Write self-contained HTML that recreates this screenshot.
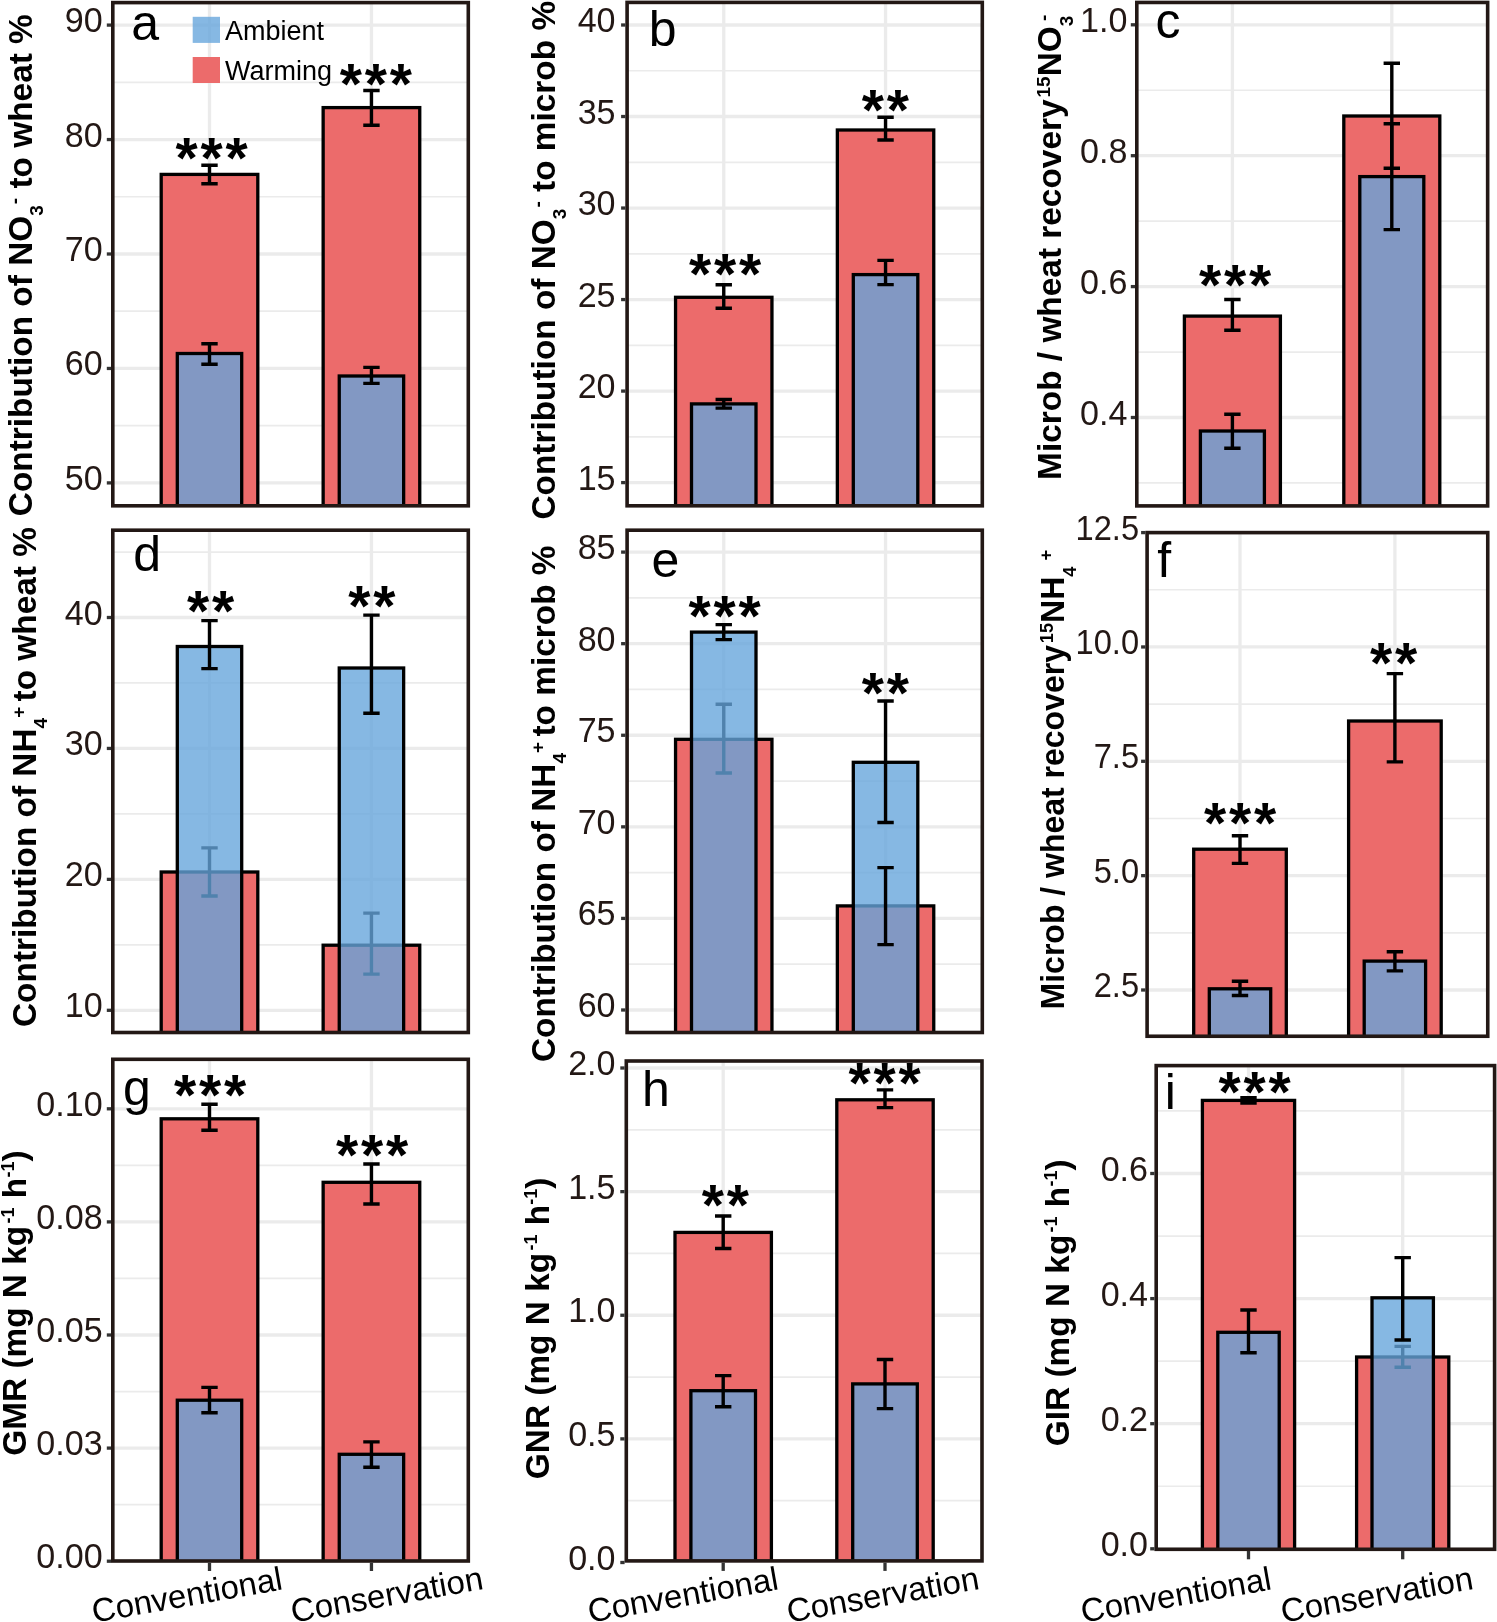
<!DOCTYPE html>
<html><head><meta charset="utf-8"><style>
html,body{margin:0;padding:0;background:#fff;}
body{width:1497px;height:1622px;overflow:hidden;}
svg{display:block;font-family:"Liberation Sans",sans-serif;will-change:transform;}
</style></head><body>
<svg width="1497" height="1622" viewBox="0 0 1497 1622">
<rect width="1497" height="1622" fill="#fff"/>
<clipPath id="clipa"><rect x="112.8" y="2.6" width="355.5" height="503.2"/></clipPath>
<g clip-path="url(#clipa)">
<line x1="112.8" y1="425.67" x2="468.3" y2="425.67" stroke="#EBEBEB" stroke-width="1.7"/>
<line x1="112.8" y1="311.22" x2="468.3" y2="311.22" stroke="#EBEBEB" stroke-width="1.7"/>
<line x1="112.8" y1="196.77" x2="468.3" y2="196.77" stroke="#EBEBEB" stroke-width="1.7"/>
<line x1="112.8" y1="82.33" x2="468.3" y2="82.33" stroke="#EBEBEB" stroke-width="1.7"/>
<line x1="112.8" y1="482.9" x2="468.3" y2="482.9" stroke="#EBEBEB" stroke-width="3.3"/>
<line x1="112.8" y1="368.45" x2="468.3" y2="368.45" stroke="#EBEBEB" stroke-width="3.3"/>
<line x1="112.8" y1="254" x2="468.3" y2="254" stroke="#EBEBEB" stroke-width="3.3"/>
<line x1="112.8" y1="139.55" x2="468.3" y2="139.55" stroke="#EBEBEB" stroke-width="3.3"/>
<line x1="112.8" y1="25.1" x2="468.3" y2="25.1" stroke="#EBEBEB" stroke-width="3.3"/>
<line x1="209.5" y1="2.6" x2="209.5" y2="505.8" stroke="#EBEBEB" stroke-width="3.3"/>
<line x1="371.45" y1="2.6" x2="371.45" y2="505.8" stroke="#EBEBEB" stroke-width="3.3"/>
<rect x="161.2" y="174.4" width="96.6" height="341.4" fill="#EC6B6B" stroke="#000" stroke-width="3.3"/>
<rect x="323.15" y="107.6" width="96.6" height="408.2" fill="#EC6B6B" stroke="#000" stroke-width="3.3"/>
<rect x="177.3" y="353.5" width="64.4" height="162.3" fill="rgba(101,165,220,0.79)" stroke="#000" stroke-width="3.3"/>
<rect x="339.25" y="376" width="64.4" height="139.8" fill="rgba(101,165,220,0.79)" stroke="#000" stroke-width="3.3"/>
<path d="M201.3 165.2H217.7M201.3 183.7H217.7M209.5 165.2V183.7" stroke="#000" stroke-width="3.4" fill="none"/>
<path d="M363.25 90.5H379.65M363.25 125.3H379.65M371.45 90.5V125.3" stroke="#000" stroke-width="3.4" fill="none"/>
<path d="M201.3 343.7H217.7M201.3 364.2H217.7M209.5 343.7V364.2" stroke="#000" stroke-width="3.4" fill="none"/>
<path d="M363.25 367.4H379.65M363.25 383.4H379.65M371.45 367.4V383.4" stroke="#000" stroke-width="3.4" fill="none"/>
</g>
<text x="186.5" y="178.13" font-size="57" font-weight="bold" text-anchor="middle">*</text>
<text x="211.5" y="178.13" font-size="57" font-weight="bold" text-anchor="middle">*</text>
<text x="236.5" y="178.13" font-size="57" font-weight="bold" text-anchor="middle">*</text>
<text x="350.9" y="104.33" font-size="57" font-weight="bold" text-anchor="middle">*</text>
<text x="375.9" y="104.33" font-size="57" font-weight="bold" text-anchor="middle">*</text>
<text x="400.9" y="104.33" font-size="57" font-weight="bold" text-anchor="middle">*</text>
<text x="131.35" y="40.2" font-size="50">a</text>
<rect x="112.8" y="2.6" width="355.5" height="503.2" fill="none" stroke="#231815" stroke-width="3.6"/>
<line x1="106.8" y1="482.9" x2="111.1" y2="482.9" stroke="#333333" stroke-width="3.3"/>
<text transform="translate(102.64,489.9) scale(0.96,1)" font-size="35.5" text-anchor="end" fill="#231815">50</text>
<line x1="106.8" y1="368.45" x2="111.1" y2="368.45" stroke="#333333" stroke-width="3.3"/>
<text transform="translate(102.64,375.45) scale(0.96,1)" font-size="35.5" text-anchor="end" fill="#231815">60</text>
<line x1="106.8" y1="254" x2="111.1" y2="254" stroke="#333333" stroke-width="3.3"/>
<text transform="translate(102.64,261) scale(0.96,1)" font-size="35.5" text-anchor="end" fill="#231815">70</text>
<line x1="106.8" y1="139.55" x2="111.1" y2="139.55" stroke="#333333" stroke-width="3.3"/>
<text transform="translate(102.64,146.55) scale(0.96,1)" font-size="35.5" text-anchor="end" fill="#231815">80</text>
<line x1="106.8" y1="25.1" x2="111.1" y2="25.1" stroke="#333333" stroke-width="3.3"/>
<text transform="translate(102.64,32.1) scale(0.96,1)" font-size="35.5" text-anchor="end" fill="#231815">90</text>
<clipPath id="clipb"><rect x="627.1" y="2.4" width="355.2" height="503.4"/></clipPath>
<g clip-path="url(#clipb)">
<line x1="627.1" y1="436.84" x2="982.3" y2="436.84" stroke="#EBEBEB" stroke-width="1.7"/>
<line x1="627.1" y1="345.32" x2="982.3" y2="345.32" stroke="#EBEBEB" stroke-width="1.7"/>
<line x1="627.1" y1="253.8" x2="982.3" y2="253.8" stroke="#EBEBEB" stroke-width="1.7"/>
<line x1="627.1" y1="162.28" x2="982.3" y2="162.28" stroke="#EBEBEB" stroke-width="1.7"/>
<line x1="627.1" y1="70.76" x2="982.3" y2="70.76" stroke="#EBEBEB" stroke-width="1.7"/>
<line x1="627.1" y1="482.6" x2="982.3" y2="482.6" stroke="#EBEBEB" stroke-width="3.3"/>
<line x1="627.1" y1="391.08" x2="982.3" y2="391.08" stroke="#EBEBEB" stroke-width="3.3"/>
<line x1="627.1" y1="299.56" x2="982.3" y2="299.56" stroke="#EBEBEB" stroke-width="3.3"/>
<line x1="627.1" y1="208.04" x2="982.3" y2="208.04" stroke="#EBEBEB" stroke-width="3.3"/>
<line x1="627.1" y1="116.52" x2="982.3" y2="116.52" stroke="#EBEBEB" stroke-width="3.3"/>
<line x1="627.1" y1="25" x2="982.3" y2="25" stroke="#EBEBEB" stroke-width="3.3"/>
<line x1="723.75" y1="2.4" x2="723.75" y2="505.8" stroke="#EBEBEB" stroke-width="3.3"/>
<line x1="885.55" y1="2.4" x2="885.55" y2="505.8" stroke="#EBEBEB" stroke-width="3.3"/>
<rect x="675.55" y="297.3" width="96.4" height="218.5" fill="#EC6B6B" stroke="#000" stroke-width="3.3"/>
<rect x="837.35" y="130" width="96.4" height="385.8" fill="#EC6B6B" stroke="#000" stroke-width="3.3"/>
<rect x="691.5" y="403.9" width="64.5" height="111.9" fill="rgba(101,165,220,0.79)" stroke="#000" stroke-width="3.3"/>
<rect x="853.3" y="274.6" width="64.5" height="241.2" fill="rgba(101,165,220,0.79)" stroke="#000" stroke-width="3.3"/>
<path d="M715.55 284.7H731.95M715.55 308.3H731.95M723.75 284.7V308.3" stroke="#000" stroke-width="3.4" fill="none"/>
<path d="M877.35 117.3H893.75M877.35 140H893.75M885.55 117.3V140" stroke="#000" stroke-width="3.4" fill="none"/>
<path d="M715.55 399.5H731.95M715.55 408.1H731.95M723.75 399.5V408.1" stroke="#000" stroke-width="3.4" fill="none"/>
<path d="M877.35 260.4H893.75M877.35 284.6H893.75M885.55 260.4V284.6" stroke="#000" stroke-width="3.4" fill="none"/>
</g>
<text x="700.1" y="294.13" font-size="57" font-weight="bold" text-anchor="middle">*</text>
<text x="725.1" y="294.13" font-size="57" font-weight="bold" text-anchor="middle">*</text>
<text x="750.1" y="294.13" font-size="57" font-weight="bold" text-anchor="middle">*</text>
<text x="872.9" y="130.13" font-size="57" font-weight="bold" text-anchor="middle">*</text>
<text x="897.9" y="130.13" font-size="57" font-weight="bold" text-anchor="middle">*</text>
<text x="648.75" y="45.6" font-size="50">b</text>
<rect x="627.1" y="2.4" width="355.2" height="503.4" fill="none" stroke="#231815" stroke-width="3.6"/>
<line x1="621.1" y1="482.6" x2="625.4" y2="482.6" stroke="#333333" stroke-width="3.3"/>
<text transform="translate(615.54,489.6) scale(0.96,1)" font-size="35.5" text-anchor="end" fill="#231815">15</text>
<line x1="621.1" y1="391.08" x2="625.4" y2="391.08" stroke="#333333" stroke-width="3.3"/>
<text transform="translate(615.54,398.08) scale(0.96,1)" font-size="35.5" text-anchor="end" fill="#231815">20</text>
<line x1="621.1" y1="299.56" x2="625.4" y2="299.56" stroke="#333333" stroke-width="3.3"/>
<text transform="translate(615.54,306.56) scale(0.96,1)" font-size="35.5" text-anchor="end" fill="#231815">25</text>
<line x1="621.1" y1="208.04" x2="625.4" y2="208.04" stroke="#333333" stroke-width="3.3"/>
<text transform="translate(615.54,215.04) scale(0.96,1)" font-size="35.5" text-anchor="end" fill="#231815">30</text>
<line x1="621.1" y1="116.52" x2="625.4" y2="116.52" stroke="#333333" stroke-width="3.3"/>
<text transform="translate(615.54,123.52) scale(0.96,1)" font-size="35.5" text-anchor="end" fill="#231815">35</text>
<line x1="621.1" y1="25" x2="625.4" y2="25" stroke="#333333" stroke-width="3.3"/>
<text transform="translate(615.54,32) scale(0.96,1)" font-size="35.5" text-anchor="end" fill="#231815">40</text>
<clipPath id="clipc"><rect x="1136.8" y="2.45" width="350.85" height="503.45"/></clipPath>
<g clip-path="url(#clipc)">
<line x1="1136.8" y1="482.95" x2="1487.65" y2="482.95" stroke="#EBEBEB" stroke-width="1.7"/>
<line x1="1136.8" y1="352.05" x2="1487.65" y2="352.05" stroke="#EBEBEB" stroke-width="1.7"/>
<line x1="1136.8" y1="221.15" x2="1487.65" y2="221.15" stroke="#EBEBEB" stroke-width="1.7"/>
<line x1="1136.8" y1="90.25" x2="1487.65" y2="90.25" stroke="#EBEBEB" stroke-width="1.7"/>
<line x1="1136.8" y1="417.5" x2="1487.65" y2="417.5" stroke="#EBEBEB" stroke-width="3.3"/>
<line x1="1136.8" y1="286.6" x2="1487.65" y2="286.6" stroke="#EBEBEB" stroke-width="3.3"/>
<line x1="1136.8" y1="155.7" x2="1487.65" y2="155.7" stroke="#EBEBEB" stroke-width="3.3"/>
<line x1="1136.8" y1="24.8" x2="1487.65" y2="24.8" stroke="#EBEBEB" stroke-width="3.3"/>
<line x1="1232.4" y1="2.45" x2="1232.4" y2="505.9" stroke="#EBEBEB" stroke-width="3.3"/>
<line x1="1391.8" y1="2.45" x2="1391.8" y2="505.9" stroke="#EBEBEB" stroke-width="3.3"/>
<rect x="1184.4" y="316.1" width="96" height="199.8" fill="#EC6B6B" stroke="#000" stroke-width="3.3"/>
<rect x="1343.8" y="116" width="96" height="399.9" fill="#EC6B6B" stroke="#000" stroke-width="3.3"/>
<rect x="1200.4" y="431" width="64" height="84.9" fill="rgba(101,165,220,0.79)" stroke="#000" stroke-width="3.3"/>
<rect x="1359.8" y="176.6" width="64" height="339.3" fill="rgba(101,165,220,0.79)" stroke="#000" stroke-width="3.3"/>
<path d="M1224.2 299.5H1240.6M1224.2 330.3H1240.6M1232.4 299.5V330.3" stroke="#000" stroke-width="3.4" fill="none"/>
<path d="M1383.6 63.3H1400M1383.6 168.2H1400M1391.8 63.3V168.2" stroke="#000" stroke-width="3.4" fill="none"/>
<path d="M1224.2 414.3H1240.6M1224.2 448.2H1240.6M1232.4 414.3V448.2" stroke="#000" stroke-width="3.4" fill="none"/>
<path d="M1383.6 123.7H1400M1383.6 229.6H1400M1391.8 123.7V229.6" stroke="#000" stroke-width="3.4" fill="none"/>
</g>
<text x="1210" y="304.73" font-size="57" font-weight="bold" text-anchor="middle">*</text>
<text x="1235" y="304.73" font-size="57" font-weight="bold" text-anchor="middle">*</text>
<text x="1260" y="304.73" font-size="57" font-weight="bold" text-anchor="middle">*</text>
<text x="1155.45" y="38" font-size="50">c</text>
<rect x="1136.8" y="2.45" width="350.85" height="503.45" fill="none" stroke="#231815" stroke-width="3.6"/>
<line x1="1130.8" y1="417.5" x2="1135.1" y2="417.5" stroke="#333333" stroke-width="3.3"/>
<text transform="translate(1127.34,424.5) scale(0.96,1)" font-size="35.5" text-anchor="end" fill="#231815">0.4</text>
<line x1="1130.8" y1="286.6" x2="1135.1" y2="286.6" stroke="#333333" stroke-width="3.3"/>
<text transform="translate(1127.34,293.6) scale(0.96,1)" font-size="35.5" text-anchor="end" fill="#231815">0.6</text>
<line x1="1130.8" y1="155.7" x2="1135.1" y2="155.7" stroke="#333333" stroke-width="3.3"/>
<text transform="translate(1127.34,162.7) scale(0.96,1)" font-size="35.5" text-anchor="end" fill="#231815">0.8</text>
<line x1="1130.8" y1="24.8" x2="1135.1" y2="24.8" stroke="#333333" stroke-width="3.3"/>
<text transform="translate(1127.34,31.8) scale(0.96,1)" font-size="35.5" text-anchor="end" fill="#231815">1.0</text>
<clipPath id="clipd"><rect x="112.8" y="530.2" width="355.5" height="502.3"/></clipPath>
<g clip-path="url(#clipd)">
<line x1="112.8" y1="944.83" x2="468.3" y2="944.83" stroke="#EBEBEB" stroke-width="1.7"/>
<line x1="112.8" y1="813.9" x2="468.3" y2="813.9" stroke="#EBEBEB" stroke-width="1.7"/>
<line x1="112.8" y1="682.97" x2="468.3" y2="682.97" stroke="#EBEBEB" stroke-width="1.7"/>
<line x1="112.8" y1="552.03" x2="468.3" y2="552.03" stroke="#EBEBEB" stroke-width="1.7"/>
<line x1="112.8" y1="1010.3" x2="468.3" y2="1010.3" stroke="#EBEBEB" stroke-width="3.3"/>
<line x1="112.8" y1="879.37" x2="468.3" y2="879.37" stroke="#EBEBEB" stroke-width="3.3"/>
<line x1="112.8" y1="748.43" x2="468.3" y2="748.43" stroke="#EBEBEB" stroke-width="3.3"/>
<line x1="112.8" y1="617.5" x2="468.3" y2="617.5" stroke="#EBEBEB" stroke-width="3.3"/>
<line x1="209.5" y1="530.2" x2="209.5" y2="1032.5" stroke="#EBEBEB" stroke-width="3.3"/>
<line x1="371.45" y1="530.2" x2="371.45" y2="1032.5" stroke="#EBEBEB" stroke-width="3.3"/>
<rect x="161.2" y="872" width="96.6" height="170.5" fill="#EC6B6B" stroke="#000" stroke-width="3.3"/>
<rect x="323.15" y="945.2" width="96.6" height="97.3" fill="#EC6B6B" stroke="#000" stroke-width="3.3"/>
<path d="M201.3 847.9H217.7M201.3 896H217.7M209.5 847.9V896" stroke="#000" stroke-width="3.4" fill="none"/>
<path d="M363.25 913.1H379.65M363.25 974.1H379.65M371.45 913.1V974.1" stroke="#000" stroke-width="3.4" fill="none"/>
<rect x="177.3" y="646.5" width="64.4" height="396" fill="rgba(101,165,220,0.79)" stroke="#000" stroke-width="3.3"/>
<rect x="339.25" y="668" width="64.4" height="374.5" fill="rgba(101,165,220,0.79)" stroke="#000" stroke-width="3.3"/>
<path d="M201.3 620.6H217.7M201.3 668.6H217.7M209.5 620.6V668.6" stroke="#000" stroke-width="3.4" fill="none"/>
<path d="M363.25 615.1H379.65M363.25 713.2H379.65M371.45 615.1V713.2" stroke="#000" stroke-width="3.4" fill="none"/>
</g>
<text x="198.2" y="631.03" font-size="57" font-weight="bold" text-anchor="middle">*</text>
<text x="223.2" y="631.03" font-size="57" font-weight="bold" text-anchor="middle">*</text>
<text x="359.4" y="626.03" font-size="57" font-weight="bold" text-anchor="middle">*</text>
<text x="384.4" y="626.03" font-size="57" font-weight="bold" text-anchor="middle">*</text>
<text x="133.2" y="571" font-size="50">d</text>
<rect x="112.8" y="530.2" width="355.5" height="502.3" fill="none" stroke="#231815" stroke-width="3.6"/>
<line x1="106.8" y1="1010.3" x2="111.1" y2="1010.3" stroke="#333333" stroke-width="3.3"/>
<text transform="translate(102.64,1017.3) scale(0.96,1)" font-size="35.5" text-anchor="end" fill="#231815">10</text>
<line x1="106.8" y1="879.37" x2="111.1" y2="879.37" stroke="#333333" stroke-width="3.3"/>
<text transform="translate(102.64,886.37) scale(0.96,1)" font-size="35.5" text-anchor="end" fill="#231815">20</text>
<line x1="106.8" y1="748.43" x2="111.1" y2="748.43" stroke="#333333" stroke-width="3.3"/>
<text transform="translate(102.64,755.43) scale(0.96,1)" font-size="35.5" text-anchor="end" fill="#231815">30</text>
<line x1="106.8" y1="617.5" x2="111.1" y2="617.5" stroke="#333333" stroke-width="3.3"/>
<text transform="translate(102.64,624.5) scale(0.96,1)" font-size="35.5" text-anchor="end" fill="#231815">40</text>
<clipPath id="clipe"><rect x="627.1" y="530.2" width="355.2" height="502.3"/></clipPath>
<g clip-path="url(#clipe)">
<line x1="627.1" y1="964.21" x2="982.3" y2="964.21" stroke="#EBEBEB" stroke-width="1.7"/>
<line x1="627.1" y1="872.63" x2="982.3" y2="872.63" stroke="#EBEBEB" stroke-width="1.7"/>
<line x1="627.1" y1="781.05" x2="982.3" y2="781.05" stroke="#EBEBEB" stroke-width="1.7"/>
<line x1="627.1" y1="689.47" x2="982.3" y2="689.47" stroke="#EBEBEB" stroke-width="1.7"/>
<line x1="627.1" y1="597.89" x2="982.3" y2="597.89" stroke="#EBEBEB" stroke-width="1.7"/>
<line x1="627.1" y1="1010" x2="982.3" y2="1010" stroke="#EBEBEB" stroke-width="3.3"/>
<line x1="627.1" y1="918.42" x2="982.3" y2="918.42" stroke="#EBEBEB" stroke-width="3.3"/>
<line x1="627.1" y1="826.84" x2="982.3" y2="826.84" stroke="#EBEBEB" stroke-width="3.3"/>
<line x1="627.1" y1="735.26" x2="982.3" y2="735.26" stroke="#EBEBEB" stroke-width="3.3"/>
<line x1="627.1" y1="643.68" x2="982.3" y2="643.68" stroke="#EBEBEB" stroke-width="3.3"/>
<line x1="627.1" y1="552.1" x2="982.3" y2="552.1" stroke="#EBEBEB" stroke-width="3.3"/>
<line x1="723.75" y1="530.2" x2="723.75" y2="1032.5" stroke="#EBEBEB" stroke-width="3.3"/>
<line x1="885.55" y1="530.2" x2="885.55" y2="1032.5" stroke="#EBEBEB" stroke-width="3.3"/>
<rect x="675.55" y="739.3" width="96.4" height="303.2" fill="#EC6B6B" stroke="#000" stroke-width="3.3"/>
<rect x="837.35" y="905.9" width="96.4" height="136.6" fill="#EC6B6B" stroke="#000" stroke-width="3.3"/>
<path d="M715.55 704.2H731.95M715.55 773H731.95M723.75 704.2V773" stroke="#000" stroke-width="3.4" fill="none"/>
<rect x="691.5" y="632.1" width="64.5" height="410.4" fill="rgba(101,165,220,0.79)" stroke="#000" stroke-width="3.3"/>
<rect x="853.3" y="762.3" width="64.5" height="280.2" fill="rgba(101,165,220,0.79)" stroke="#000" stroke-width="3.3"/>
<path d="M715.55 624.6H731.95M715.55 639.6H731.95M723.75 624.6V639.6" stroke="#000" stroke-width="3.4" fill="none"/>
<path d="M877.35 701H893.75M877.35 822.5H893.75M885.55 701V822.5" stroke="#000" stroke-width="3.4" fill="none"/>
<path d="M877.35 867.6H893.75M877.35 944.6H893.75M885.55 867.6V944.6" stroke="#000" stroke-width="3.4" fill="none"/>
</g>
<text x="699.5" y="635.83" font-size="57" font-weight="bold" text-anchor="middle">*</text>
<text x="724.5" y="635.83" font-size="57" font-weight="bold" text-anchor="middle">*</text>
<text x="749.5" y="635.83" font-size="57" font-weight="bold" text-anchor="middle">*</text>
<text x="872.9" y="712.93" font-size="57" font-weight="bold" text-anchor="middle">*</text>
<text x="897.9" y="712.93" font-size="57" font-weight="bold" text-anchor="middle">*</text>
<text x="651.45" y="576.8" font-size="50">e</text>
<rect x="627.1" y="530.2" width="355.2" height="502.3" fill="none" stroke="#231815" stroke-width="3.6"/>
<line x1="621.1" y1="1010" x2="625.4" y2="1010" stroke="#333333" stroke-width="3.3"/>
<text transform="translate(615.54,1017) scale(0.96,1)" font-size="35.5" text-anchor="end" fill="#231815">60</text>
<line x1="621.1" y1="918.42" x2="625.4" y2="918.42" stroke="#333333" stroke-width="3.3"/>
<text transform="translate(615.54,925.42) scale(0.96,1)" font-size="35.5" text-anchor="end" fill="#231815">65</text>
<line x1="621.1" y1="826.84" x2="625.4" y2="826.84" stroke="#333333" stroke-width="3.3"/>
<text transform="translate(615.54,833.84) scale(0.96,1)" font-size="35.5" text-anchor="end" fill="#231815">70</text>
<line x1="621.1" y1="735.26" x2="625.4" y2="735.26" stroke="#333333" stroke-width="3.3"/>
<text transform="translate(615.54,742.26) scale(0.96,1)" font-size="35.5" text-anchor="end" fill="#231815">75</text>
<line x1="621.1" y1="643.68" x2="625.4" y2="643.68" stroke="#333333" stroke-width="3.3"/>
<text transform="translate(615.54,650.68) scale(0.96,1)" font-size="35.5" text-anchor="end" fill="#231815">80</text>
<line x1="621.1" y1="552.1" x2="625.4" y2="552.1" stroke="#333333" stroke-width="3.3"/>
<text transform="translate(615.54,559.1) scale(0.96,1)" font-size="35.5" text-anchor="end" fill="#231815">85</text>
<clipPath id="clipf"><rect x="1147.1" y="532.6" width="340.65" height="503.65"/></clipPath>
<g clip-path="url(#clipf)">
<line x1="1147.1" y1="932.83" x2="1487.75" y2="932.83" stroke="#EBEBEB" stroke-width="1.7"/>
<line x1="1147.1" y1="818.48" x2="1487.75" y2="818.48" stroke="#EBEBEB" stroke-width="1.7"/>
<line x1="1147.1" y1="704.12" x2="1487.75" y2="704.12" stroke="#EBEBEB" stroke-width="1.7"/>
<line x1="1147.1" y1="589.77" x2="1487.75" y2="589.77" stroke="#EBEBEB" stroke-width="1.7"/>
<line x1="1147.1" y1="990" x2="1487.75" y2="990" stroke="#EBEBEB" stroke-width="3.3"/>
<line x1="1147.1" y1="875.65" x2="1487.75" y2="875.65" stroke="#EBEBEB" stroke-width="3.3"/>
<line x1="1147.1" y1="761.3" x2="1487.75" y2="761.3" stroke="#EBEBEB" stroke-width="3.3"/>
<line x1="1147.1" y1="646.95" x2="1487.75" y2="646.95" stroke="#EBEBEB" stroke-width="3.3"/>
<line x1="1147.1" y1="532.6" x2="1487.75" y2="532.6" stroke="#EBEBEB" stroke-width="3.3"/>
<line x1="1240" y1="532.6" x2="1240" y2="1036.25" stroke="#EBEBEB" stroke-width="3.3"/>
<line x1="1394.9" y1="532.6" x2="1394.9" y2="1036.25" stroke="#EBEBEB" stroke-width="3.3"/>
<rect x="1193.7" y="849.2" width="92.6" height="197.05" fill="#EC6B6B" stroke="#000" stroke-width="3.3"/>
<rect x="1348.6" y="721" width="92.6" height="325.25" fill="#EC6B6B" stroke="#000" stroke-width="3.3"/>
<rect x="1209.3" y="988.8" width="61.4" height="57.45" fill="rgba(101,165,220,0.79)" stroke="#000" stroke-width="3.3"/>
<rect x="1364.2" y="961.1" width="61.4" height="85.15" fill="rgba(101,165,220,0.79)" stroke="#000" stroke-width="3.3"/>
<path d="M1231.8 835.8H1248.2M1231.8 863.4H1248.2M1240 835.8V863.4" stroke="#000" stroke-width="3.4" fill="none"/>
<path d="M1386.7 673.6H1403.1M1386.7 761.9H1403.1M1394.9 673.6V761.9" stroke="#000" stroke-width="3.4" fill="none"/>
<path d="M1231.8 981.2H1248.2M1231.8 995.5H1248.2M1240 981.2V995.5" stroke="#000" stroke-width="3.4" fill="none"/>
<path d="M1386.7 951.8H1403.1M1386.7 970.9H1403.1M1394.9 951.8V970.9" stroke="#000" stroke-width="3.4" fill="none"/>
</g>
<text x="1215" y="842.93" font-size="57" font-weight="bold" text-anchor="middle">*</text>
<text x="1240" y="842.93" font-size="57" font-weight="bold" text-anchor="middle">*</text>
<text x="1265" y="842.93" font-size="57" font-weight="bold" text-anchor="middle">*</text>
<text x="1381.1" y="682.83" font-size="57" font-weight="bold" text-anchor="middle">*</text>
<text x="1406.1" y="682.83" font-size="57" font-weight="bold" text-anchor="middle">*</text>
<text x="1157.25" y="576.6" font-size="50">f</text>
<rect x="1147.1" y="532.6" width="340.65" height="503.65" fill="none" stroke="#231815" stroke-width="3.6"/>
<line x1="1141.1" y1="990" x2="1145.4" y2="990" stroke="#333333" stroke-width="3.3"/>
<text transform="translate(1139.09,997) scale(0.92,1)" font-size="35.5" text-anchor="end" fill="#231815">2.5</text>
<line x1="1141.1" y1="875.65" x2="1145.4" y2="875.65" stroke="#333333" stroke-width="3.3"/>
<text transform="translate(1139.09,882.65) scale(0.92,1)" font-size="35.5" text-anchor="end" fill="#231815">5.0</text>
<line x1="1141.1" y1="761.3" x2="1145.4" y2="761.3" stroke="#333333" stroke-width="3.3"/>
<text transform="translate(1139.09,768.3) scale(0.92,1)" font-size="35.5" text-anchor="end" fill="#231815">7.5</text>
<line x1="1141.1" y1="646.95" x2="1145.4" y2="646.95" stroke="#333333" stroke-width="3.3"/>
<text transform="translate(1139.09,653.95) scale(0.92,1)" font-size="35.5" text-anchor="end" fill="#231815">10.0</text>
<line x1="1141.1" y1="532.6" x2="1145.4" y2="532.6" stroke="#333333" stroke-width="3.3"/>
<text transform="translate(1139.09,539.6) scale(0.92,1)" font-size="35.5" text-anchor="end" fill="#231815">12.5</text>
<clipPath id="clipg"><rect x="112.8" y="1059.3" width="355.5" height="501.7"/></clipPath>
<g clip-path="url(#clipg)">
<line x1="112.8" y1="1504.65" x2="468.3" y2="1504.65" stroke="#EBEBEB" stroke-width="1.7"/>
<line x1="112.8" y1="1391.55" x2="468.3" y2="1391.55" stroke="#EBEBEB" stroke-width="1.7"/>
<line x1="112.8" y1="1278.45" x2="468.3" y2="1278.45" stroke="#EBEBEB" stroke-width="1.7"/>
<line x1="112.8" y1="1165.35" x2="468.3" y2="1165.35" stroke="#EBEBEB" stroke-width="1.7"/>
<line x1="112.8" y1="1561.2" x2="468.3" y2="1561.2" stroke="#EBEBEB" stroke-width="3.3"/>
<line x1="112.8" y1="1448.1" x2="468.3" y2="1448.1" stroke="#EBEBEB" stroke-width="3.3"/>
<line x1="112.8" y1="1335" x2="468.3" y2="1335" stroke="#EBEBEB" stroke-width="3.3"/>
<line x1="112.8" y1="1221.9" x2="468.3" y2="1221.9" stroke="#EBEBEB" stroke-width="3.3"/>
<line x1="112.8" y1="1108.8" x2="468.3" y2="1108.8" stroke="#EBEBEB" stroke-width="3.3"/>
<line x1="209.5" y1="1059.3" x2="209.5" y2="1561" stroke="#EBEBEB" stroke-width="3.3"/>
<line x1="371.45" y1="1059.3" x2="371.45" y2="1561" stroke="#EBEBEB" stroke-width="3.3"/>
<rect x="161.2" y="1118.8" width="96.6" height="452.2" fill="#EC6B6B" stroke="#000" stroke-width="3.3"/>
<rect x="323.15" y="1182.3" width="96.6" height="388.7" fill="#EC6B6B" stroke="#000" stroke-width="3.3"/>
<rect x="177.3" y="1400.2" width="64.4" height="170.8" fill="rgba(101,165,220,0.79)" stroke="#000" stroke-width="3.3"/>
<rect x="339.25" y="1454.3" width="64.4" height="116.7" fill="rgba(101,165,220,0.79)" stroke="#000" stroke-width="3.3"/>
<path d="M201.3 1104.2H217.7M201.3 1130.2H217.7M209.5 1104.2V1130.2" stroke="#000" stroke-width="3.4" fill="none"/>
<path d="M363.25 1164H379.65M363.25 1204H379.65M371.45 1164V1204" stroke="#000" stroke-width="3.4" fill="none"/>
<path d="M201.3 1387.4H217.7M201.3 1412.7H217.7M209.5 1387.4V1412.7" stroke="#000" stroke-width="3.4" fill="none"/>
<path d="M363.25 1441.9H379.65M363.25 1467.3H379.65M371.45 1441.9V1467.3" stroke="#000" stroke-width="3.4" fill="none"/>
</g>
<text x="185.1" y="1115.13" font-size="57" font-weight="bold" text-anchor="middle">*</text>
<text x="210.1" y="1115.13" font-size="57" font-weight="bold" text-anchor="middle">*</text>
<text x="235.1" y="1115.13" font-size="57" font-weight="bold" text-anchor="middle">*</text>
<text x="347.1" y="1175.23" font-size="57" font-weight="bold" text-anchor="middle">*</text>
<text x="372.1" y="1175.23" font-size="57" font-weight="bold" text-anchor="middle">*</text>
<text x="397.1" y="1175.23" font-size="57" font-weight="bold" text-anchor="middle">*</text>
<text x="123" y="1104.6" font-size="50">g</text>
<rect x="112.8" y="1059.3" width="355.5" height="501.7" fill="none" stroke="#231815" stroke-width="3.6"/>
<line x1="106.8" y1="1561.2" x2="111.1" y2="1561.2" stroke="#333333" stroke-width="3.3"/>
<text transform="translate(102.64,1568.2) scale(0.96,1)" font-size="35.5" text-anchor="end" fill="#231815">0.00</text>
<line x1="106.8" y1="1448.1" x2="111.1" y2="1448.1" stroke="#333333" stroke-width="3.3"/>
<text transform="translate(102.64,1455.1) scale(0.96,1)" font-size="35.5" text-anchor="end" fill="#231815">0.03</text>
<line x1="106.8" y1="1335" x2="111.1" y2="1335" stroke="#333333" stroke-width="3.3"/>
<text transform="translate(102.64,1342) scale(0.96,1)" font-size="35.5" text-anchor="end" fill="#231815">0.05</text>
<line x1="106.8" y1="1221.9" x2="111.1" y2="1221.9" stroke="#333333" stroke-width="3.3"/>
<text transform="translate(102.64,1228.9) scale(0.96,1)" font-size="35.5" text-anchor="end" fill="#231815">0.08</text>
<line x1="106.8" y1="1108.8" x2="111.1" y2="1108.8" stroke="#333333" stroke-width="3.3"/>
<text transform="translate(102.64,1115.8) scale(0.96,1)" font-size="35.5" text-anchor="end" fill="#231815">0.10</text>
<line x1="209.5" y1="1562.7" x2="209.5" y2="1571" stroke="#333333" stroke-width="3.3"/>
<line x1="371.45" y1="1562.7" x2="371.45" y2="1571" stroke="#333333" stroke-width="3.3"/>
<clipPath id="cliph"><rect x="626.3" y="1061" width="355.7" height="499.9"/></clipPath>
<g clip-path="url(#cliph)">
<line x1="626.3" y1="1500.69" x2="982" y2="1500.69" stroke="#EBEBEB" stroke-width="1.7"/>
<line x1="626.3" y1="1377.06" x2="982" y2="1377.06" stroke="#EBEBEB" stroke-width="1.7"/>
<line x1="626.3" y1="1253.44" x2="982" y2="1253.44" stroke="#EBEBEB" stroke-width="1.7"/>
<line x1="626.3" y1="1129.81" x2="982" y2="1129.81" stroke="#EBEBEB" stroke-width="1.7"/>
<line x1="626.3" y1="1562.5" x2="982" y2="1562.5" stroke="#EBEBEB" stroke-width="3.3"/>
<line x1="626.3" y1="1438.88" x2="982" y2="1438.88" stroke="#EBEBEB" stroke-width="3.3"/>
<line x1="626.3" y1="1315.25" x2="982" y2="1315.25" stroke="#EBEBEB" stroke-width="3.3"/>
<line x1="626.3" y1="1191.62" x2="982" y2="1191.62" stroke="#EBEBEB" stroke-width="3.3"/>
<line x1="626.3" y1="1068" x2="982" y2="1068" stroke="#EBEBEB" stroke-width="3.3"/>
<line x1="723.2" y1="1061" x2="723.2" y2="1560.9" stroke="#EBEBEB" stroke-width="3.3"/>
<line x1="885" y1="1061" x2="885" y2="1560.9" stroke="#EBEBEB" stroke-width="3.3"/>
<rect x="675" y="1232.4" width="96.4" height="338.5" fill="#EC6B6B" stroke="#000" stroke-width="3.3"/>
<rect x="836.8" y="1099.8" width="96.4" height="471.1" fill="#EC6B6B" stroke="#000" stroke-width="3.3"/>
<rect x="690.9" y="1390.7" width="64.6" height="180.2" fill="rgba(101,165,220,0.79)" stroke="#000" stroke-width="3.3"/>
<rect x="852.7" y="1383.9" width="64.6" height="187" fill="rgba(101,165,220,0.79)" stroke="#000" stroke-width="3.3"/>
<path d="M715 1216H731.4M715 1248.5H731.4M723.2 1216V1248.5" stroke="#000" stroke-width="3.4" fill="none"/>
<path d="M876.8 1089.9H893.2M876.8 1107.6H893.2M885 1089.9V1107.6" stroke="#000" stroke-width="3.4" fill="none"/>
<path d="M715 1375.6H731.4M715 1406.8H731.4M723.2 1375.6V1406.8" stroke="#000" stroke-width="3.4" fill="none"/>
<path d="M876.8 1359.5H893.2M876.8 1408.6H893.2M885 1359.5V1408.6" stroke="#000" stroke-width="3.4" fill="none"/>
</g>
<text x="712.8" y="1225.03" font-size="57" font-weight="bold" text-anchor="middle">*</text>
<text x="737.8" y="1225.03" font-size="57" font-weight="bold" text-anchor="middle">*</text>
<text x="859.6" y="1103.33" font-size="57" font-weight="bold" text-anchor="middle">*</text>
<text x="884.6" y="1103.33" font-size="57" font-weight="bold" text-anchor="middle">*</text>
<text x="909.6" y="1103.33" font-size="57" font-weight="bold" text-anchor="middle">*</text>
<text x="641.9" y="1105.7" font-size="50">h</text>
<rect x="626.3" y="1061" width="355.7" height="499.9" fill="none" stroke="#231815" stroke-width="3.6"/>
<line x1="620.3" y1="1562.5" x2="624.6" y2="1562.5" stroke="#333333" stroke-width="3.3"/>
<text transform="translate(615.54,1569.5) scale(0.96,1)" font-size="35.5" text-anchor="end" fill="#231815">0.0</text>
<line x1="620.3" y1="1438.88" x2="624.6" y2="1438.88" stroke="#333333" stroke-width="3.3"/>
<text transform="translate(615.54,1445.88) scale(0.96,1)" font-size="35.5" text-anchor="end" fill="#231815">0.5</text>
<line x1="620.3" y1="1315.25" x2="624.6" y2="1315.25" stroke="#333333" stroke-width="3.3"/>
<text transform="translate(615.54,1322.25) scale(0.96,1)" font-size="35.5" text-anchor="end" fill="#231815">1.0</text>
<line x1="620.3" y1="1191.62" x2="624.6" y2="1191.62" stroke="#333333" stroke-width="3.3"/>
<text transform="translate(615.54,1198.62) scale(0.96,1)" font-size="35.5" text-anchor="end" fill="#231815">1.5</text>
<line x1="620.3" y1="1068" x2="624.6" y2="1068" stroke="#333333" stroke-width="3.3"/>
<text transform="translate(615.54,1075) scale(0.96,1)" font-size="35.5" text-anchor="end" fill="#231815">2.0</text>
<line x1="723.2" y1="1562.6" x2="723.2" y2="1570.9" stroke="#333333" stroke-width="3.3"/>
<line x1="885" y1="1562.6" x2="885" y2="1570.9" stroke="#333333" stroke-width="3.3"/>
<clipPath id="clipi"><rect x="1156.2" y="1065.6" width="338.4" height="483.7"/></clipPath>
<g clip-path="url(#clipi)">
<line x1="1156.2" y1="1486.25" x2="1494.6" y2="1486.25" stroke="#EBEBEB" stroke-width="1.7"/>
<line x1="1156.2" y1="1361.15" x2="1494.6" y2="1361.15" stroke="#EBEBEB" stroke-width="1.7"/>
<line x1="1156.2" y1="1236.05" x2="1494.6" y2="1236.05" stroke="#EBEBEB" stroke-width="1.7"/>
<line x1="1156.2" y1="1110.95" x2="1494.6" y2="1110.95" stroke="#EBEBEB" stroke-width="1.7"/>
<line x1="1156.2" y1="1548.8" x2="1494.6" y2="1548.8" stroke="#EBEBEB" stroke-width="3.3"/>
<line x1="1156.2" y1="1423.7" x2="1494.6" y2="1423.7" stroke="#EBEBEB" stroke-width="3.3"/>
<line x1="1156.2" y1="1298.6" x2="1494.6" y2="1298.6" stroke="#EBEBEB" stroke-width="3.3"/>
<line x1="1156.2" y1="1173.5" x2="1494.6" y2="1173.5" stroke="#EBEBEB" stroke-width="3.3"/>
<line x1="1248.5" y1="1065.6" x2="1248.5" y2="1549.3" stroke="#EBEBEB" stroke-width="3.3"/>
<line x1="1402.7" y1="1065.6" x2="1402.7" y2="1549.3" stroke="#EBEBEB" stroke-width="3.3"/>
<rect x="1202.4" y="1100.4" width="92.2" height="458.9" fill="#EC6B6B" stroke="#000" stroke-width="3.3"/>
<rect x="1356.6" y="1357" width="92.2" height="202.3" fill="#EC6B6B" stroke="#000" stroke-width="3.3"/>
<path d="M1394.5 1346.4H1410.9M1394.5 1367.2H1410.9M1402.7 1346.4V1367.2" stroke="#000" stroke-width="3.4" fill="none"/>
<rect x="1217.8" y="1332.3" width="61.4" height="227" fill="rgba(101,165,220,0.79)" stroke="#000" stroke-width="3.3"/>
<rect x="1372" y="1297.8" width="61.4" height="261.5" fill="rgba(101,165,220,0.79)" stroke="#000" stroke-width="3.3"/>
<path d="M1240.3 1097.8H1256.7M1240.3 1103H1256.7M1248.5 1097.8V1103" stroke="#000" stroke-width="3.4" fill="none"/>
<path d="M1240.3 1310H1256.7M1240.3 1352.7H1256.7M1248.5 1310V1352.7" stroke="#000" stroke-width="3.4" fill="none"/>
<path d="M1394.5 1257.6H1410.9M1394.5 1340H1410.9M1402.7 1257.6V1340" stroke="#000" stroke-width="3.4" fill="none"/>
</g>
<text x="1229.6" y="1112.23" font-size="57" font-weight="bold" text-anchor="middle">*</text>
<text x="1254.6" y="1112.23" font-size="57" font-weight="bold" text-anchor="middle">*</text>
<text x="1279.6" y="1112.23" font-size="57" font-weight="bold" text-anchor="middle">*</text>
<text x="1164.85" y="1108.8" font-size="50">i</text>
<rect x="1156.2" y="1065.6" width="338.4" height="483.7" fill="none" stroke="#231815" stroke-width="3.6"/>
<line x1="1150.2" y1="1548.8" x2="1154.5" y2="1548.8" stroke="#333333" stroke-width="3.3"/>
<text transform="translate(1148.04,1555.8) scale(0.96,1)" font-size="35.5" text-anchor="end" fill="#231815">0.0</text>
<line x1="1150.2" y1="1423.7" x2="1154.5" y2="1423.7" stroke="#333333" stroke-width="3.3"/>
<text transform="translate(1148.04,1430.7) scale(0.96,1)" font-size="35.5" text-anchor="end" fill="#231815">0.2</text>
<line x1="1150.2" y1="1298.6" x2="1154.5" y2="1298.6" stroke="#333333" stroke-width="3.3"/>
<text transform="translate(1148.04,1305.6) scale(0.96,1)" font-size="35.5" text-anchor="end" fill="#231815">0.4</text>
<line x1="1150.2" y1="1173.5" x2="1154.5" y2="1173.5" stroke="#333333" stroke-width="3.3"/>
<text transform="translate(1148.04,1180.5) scale(0.96,1)" font-size="35.5" text-anchor="end" fill="#231815">0.6</text>
<line x1="1248.5" y1="1551" x2="1248.5" y2="1559.3" stroke="#333333" stroke-width="3.3"/>
<line x1="1402.7" y1="1551" x2="1402.7" y2="1559.3" stroke="#333333" stroke-width="3.3"/>
<text transform="translate(32,516.2) rotate(-90)" font-weight="bold" font-size="33.4"><tspan>Contribution of NO</tspan><tspan font-size="19" dy="11">3</tspan><tspan font-size="19" dy="-22" dx="1">-</tspan><tspan dy="11"> to wheat %</tspan></text>
<text transform="translate(554.9,519.6) rotate(-90)" font-weight="bold" font-size="33.4"><tspan>Contribution of NO</tspan><tspan font-size="19" dy="11">3</tspan><tspan font-size="19" dy="-22" dx="1">-</tspan><tspan dy="11"> to microb %</tspan></text>
<text transform="translate(1061.4,479.9) rotate(-90)" font-weight="bold" font-size="33.4"><tspan>Microb / wheat recovery</tspan><tspan font-size="19" dy="-11" dx="2">15</tspan><tspan dy="11">NO</tspan><tspan font-size="19" dy="12">3</tspan><tspan font-size="19" dy="-23.5" dx="-5.4">-</tspan><tspan dy="11.5"></tspan></text>
<text transform="translate(36,1027) rotate(-90)" font-weight="bold" font-size="33.4"><tspan>Contribution of NH</tspan><tspan font-size="19" dy="11">4</tspan><tspan font-size="19" dy="-22">+</tspan><tspan dy="11" dx="-4"> to wheat %</tspan></text>
<text transform="translate(554.5,1062.1) rotate(-90)" font-weight="bold" font-size="33.4"><tspan>Contribution of NH</tspan><tspan font-size="19" dy="11">4</tspan><tspan font-size="19" dy="-22">+</tspan><tspan dy="11" dx="-4"> to microb %</tspan></text>
<text transform="translate(1063.9,1009.4) rotate(-90) scale(0.958,1)" font-weight="bold" font-size="33.4"><tspan>Microb / wheat recovery</tspan><tspan font-size="19" dy="-11" dx="2">15</tspan><tspan dy="11">NH</tspan><tspan font-size="19" dy="12">4</tspan><tspan font-size="19" dy="-23.5" dx="6.3">+</tspan><tspan dy="11.5"></tspan></text>
<text transform="translate(25.9,1455.8) rotate(-90)" font-weight="bold" font-size="33.4"><tspan>GMR (mg N kg</tspan><tspan font-size="18" dy="-12" dx="2.3">-1</tspan><tspan dy="12"> h</tspan><tspan font-size="18" dy="-12" dx="0.2">-1</tspan><tspan dy="12">)</tspan></text>
<text transform="translate(548.9,1479.2) rotate(-90)" font-weight="bold" font-size="33.4"><tspan>GNR (mg N kg</tspan><tspan font-size="18" dy="-12" dx="2.3">-1</tspan><tspan dy="12"> h</tspan><tspan font-size="18" dy="-12" dx="0.2">-1</tspan><tspan dy="12">)</tspan></text>
<text transform="translate(1068.9,1446.2) rotate(-90)" font-weight="bold" font-size="33.4"><tspan>GIR (mg N kg</tspan><tspan font-size="18" dy="-12" dx="2.3">-1</tspan><tspan dy="12"> h</tspan><tspan font-size="18" dy="-12" dx="0.2">-1</tspan><tspan dy="12">)</tspan></text>
<rect x="192.7" y="16.8" width="27.3" height="26.1" fill="rgba(101,165,220,0.79)"/>
<rect x="192.7" y="57" width="27.3" height="26" fill="#EC6B6B"/>
<text x="225" y="40" font-size="27">Ambient</text>
<text x="225" y="79.8" font-size="27">Warming</text>
<text transform="translate(94,1622.7) rotate(-10)" font-size="33" fill="#000">Conventional</text>
<text transform="translate(293,1622.7) rotate(-10)" font-size="33" fill="#000">Conservation</text>
<text transform="translate(590,1622.7) rotate(-10)" font-size="33" fill="#000">Conventional</text>
<text transform="translate(789,1622.7) rotate(-10)" font-size="33" fill="#000">Conservation</text>
<text transform="translate(1083,1622.7) rotate(-10)" font-size="33" fill="#000">Conventional</text>
<text transform="translate(1283,1622.7) rotate(-10)" font-size="33" fill="#000">Conservation</text>
</svg>
</body></html>
